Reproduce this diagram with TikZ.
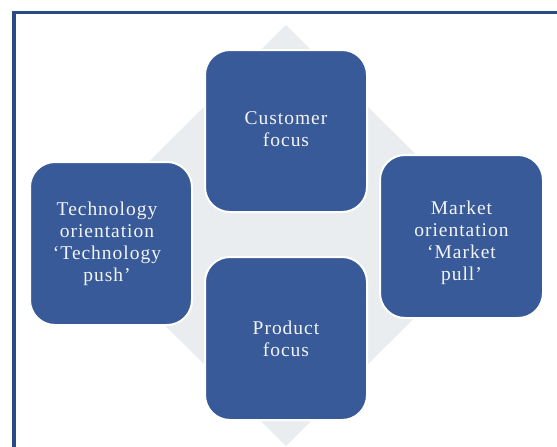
\documentclass[tikz,border=0pt]{standalone}
\usepackage{fontspec}
\setmainfont{Liberation Serif}
\newfontfamily\boxfont[LetterSpace=5]{Liberation Serif}
\definecolor{boxblue}{HTML}{385A98}
\definecolor{framblue}{HTML}{2B4A88}
\definecolor{diagray}{HTML}{EAEDEF}
\definecolor{txtwhite}{HTML}{F2F3F5}
\tikzset{
  fbox/.style={rectangle, rounded corners=25pt, fill=boxblue, draw=white,
    line width=2pt, minimum width=162pt, minimum height=162pt, inner sep=0pt},
  ftext/.style={align=center, text=txtwhite, inner sep=0pt,
    font=\boxfont\fontsize{19.5}{22}\selectfont},
  frameline/.style={draw=framblue, line width=3.5pt},
}
\begin{document}
\begin{tikzpicture}[x=1pt,y=-1pt]
\useasboundingbox (0,0) rectangle (557,447);
\fill[white] (0,0) rectangle (557,447);
% frame
\coordinate (fbl) at (14,449);
\coordinate (ftl) at (14,12.5);
\coordinate (ftr) at (559,12.5);
\draw[frameline] (fbl) -- (ftl) -- (ftr);
% background diamond
\coordinate (dt) at (286,25);
\coordinate (dr) at (497,235.5);
\coordinate (db) at (286,446);
\coordinate (dl) at (75,235.5);
\fill[diagray] (dt) -- (dr) -- (db) -- (dl) -- cycle;
% boxes
\node[fbox] (cust) at (286,131) {};
\node[fbox, minimum height=163pt] (prod) at (286,338.5) {};
\node[fbox, minimum height=163pt] (tech) at (111,243.5) {};
\node[fbox, minimum width=163pt, minimum height=163pt] (mark) at (461.5,236.5) {};
% texts
\node[ftext] (custtxt) at ([yshift=2pt]cust.center) {Customer\\focus};
\node[ftext] (prodtxt) at (prod.center) {Product\\focus};
\node[ftext] (techtxt) at ([xshift=-4pt]tech.center) {Technology\\orientation\\‘Technology\\push’};
\node[ftext] (marktxt) at ([yshift=-6pt]mark.center) {Market\\orientation\\‘Market \\pull’};
\end{tikzpicture}
\end{document}
